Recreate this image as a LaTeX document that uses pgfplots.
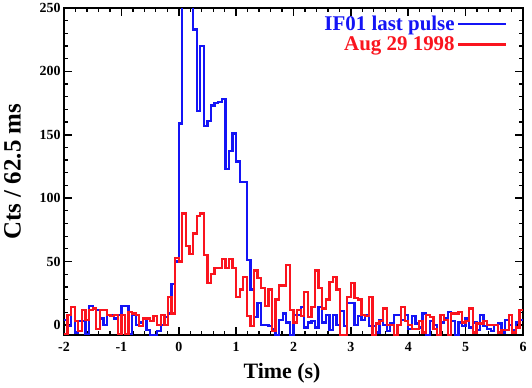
\documentclass[border=0pt]{standalone}
\usepackage{fontspec}
\setmainfont{Liberation Serif}
\usepackage{pgfplots}
\usepackage{pgfplotstable}
\pgfplotsset{compat=1.18}

\definecolor{cblue}{RGB}{20,20,245}
\definecolor{cred}{RGB}{250,20,30}

% bin start (s), counts per 62.5 ms bin: b = IF01 last pulse, r = Aug 29 1998
\pgfplotstableread{
t b r
-2.0000 4 -7
-1.9375 -1 8
-1.8750 14 14
-1.8125 -6 3
-1.7500 3 -5
-1.6875 3 12
-1.6250 -7 4
-1.5625 15 12
-1.5000 13 13
-1.4375 12 -3
-1.3750 5 12
-1.3125 0 12
-1.2500 8 8
-1.1875 8 7
-1.1250 5 8
-1.0625 8 -7
-1.0000 15 8
-0.9375 15 -7
-0.8750 -7 10
-0.8125 8 9
-0.7500 0 8
-0.6875 2 -1
-0.6250 5 5
-0.5625 -4 5
-0.5000 -8 3
-0.4375 -8 7
-0.3750 -5 0
-0.3125 0 8
-0.2500 6 0
-0.1875 9 22
-0.1250 32 9
-0.0625 50 53
0.0000 159 50
0.0625 300 88
0.1250 290 62
0.1875 270 56
0.2500 233 72
0.3125 169 86
0.3750 220 88
0.4375 157 55
0.5000 161 33
0.5625 173 40
0.6250 175 45
0.6875 176 45
0.7500 178 52
0.8125 123 45
0.8750 137 52
0.9375 151 45
1.0000 129 22
1.0625 113 28
1.1250 113 38
1.1875 51 7
1.2500 28 -1
1.3125 6 43
1.3750 17 37
1.4375 0 29
1.5000 0 15
1.5625 -1 28
1.6250 -3 -5
1.6875 -8 20
1.7500 4 31
1.8125 9 31
1.8750 2 47
1.9375 -8 12
2.0000 8 2
2.0625 8 12
2.1250 14 7
2.1875 -2 26
2.2500 2 6
2.3125 3 14
2.3750 -2 43
2.4375 14 29
2.5000 2 13
2.5625 8 20
2.6250 -4 34
2.6875 8 38
2.7500 0 28
2.8125 11 -8
2.8750 -1 -8
2.9375 17 22
3.0000 17 33
3.0625 0 21
3.1250 7 20
3.1875 4 8
3.2500 8 7
3.3125 -1 22
3.3750 -1 -8
3.4375 -6 1
3.5000 4 3
3.5625 0 13
3.6250 -5 0
3.6875 1 0
3.7500 8 -8
3.8125 8 0
3.8750 4 14
3.9375 8 3
4.0000 -3 0
4.0625 7 -3
4.1250 1 -3
4.1875 -2 3
4.2500 9 -6
4.3125 -8 8
4.3750 3 6
4.4375 0 -3
4.5000 -8 -8
4.5625 2 8
4.6250 5 4
4.6875 10 -8
4.7500 3 9
4.8125 -8 9
4.8750 2 10
4.9375 -1 2
5.0000 5 3
5.0625 -2 13
5.1250 2 -6
5.1875 -4 1
5.2500 8 1
5.3125 -1 3
5.3750 -3 0
5.4375 -5 0
5.5000 0 0
5.5625 1 -6
5.6250 -6 -4
5.6875 4 -4
5.7500 0 8
5.8125 -4 -6
5.8750 2 -2
5.9375 4 12
6.0000 4 12
}\lc

\begin{document}
\begin{tikzpicture}
\begin{axis}[
    scale only axis,
    width=459bp, height=327bp,
    xmin=-2, xmax=6,
    ymin=-8, ymax=250,
    xtick={-2,-1,...,6},
    ytick={0,50,...,250},
    minor x tick num=4,
    minor y tick num=4,
    tick align=inside,
    major tick length=8bp,
    minor tick length=4bp,
    every major tick/.append style={black, line width=1.6bp},
    every minor tick/.append style={black, line width=1.3bp},
    axis line style={black, line width=2.6bp},
    /pgf/number format/assume math mode=true,
    tick label style={font=\fontsize{14}{16}\selectfont\bfseries},
    xticklabel style={yshift=-4bp},
    xlabel={Time (s)},
    ylabel={Cts / 62.5 ms},
    xlabel style={font=\fontsize{22}{24}\selectfont\bfseries,
        at={(axis description cs:0.475,-0.116)}, anchor=center},
    ylabel style={font=\fontsize{25}{27}\selectfont\bfseries,
        at={(axis description cs:-0.112,0.5)}, anchor=center},
    legend style={at={(rel axis cs:0.972,0.989)}, anchor=north east,
        draw=none, fill=none, row sep=1bp,
        font=\fontsize{21}{21}\selectfont\bfseries,
        cells={anchor=east}},
    legend plot pos=right,
    legend image code/.code={\draw[#1] (4bp,0bp) -- (52bp,0bp);},
]
\addplot[const plot mark left, cblue, line width=2.3bp] table[x=t, y=b] {\lc};
\addplot[const plot mark left, cred, line width=2.3bp] table[x=t, y=r] {\lc};
\legend{\textcolor{cblue}{IF01 last pulse}, \textcolor{cred}{Aug 29 1998}}
\end{axis}
\path ([xshift=-64bp, yshift=-52bp]current axis.south west)
    rectangle ([xshift=9bp, yshift=5bp]current axis.north east);
\end{tikzpicture}
\end{document}
